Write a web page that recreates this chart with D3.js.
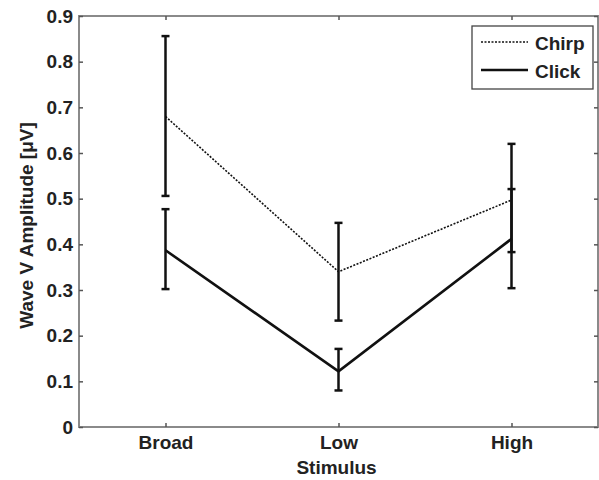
<!DOCTYPE html>
<html>
<head>
    <script src="https://cdnjs.cloudflare.com/ajax/libs/d3/7.8.5/d3.min.js" type="text/javascript"></script>
    <style>
        body { margin: 0; background: #fff; }
        text { font-family: "Liberation Sans", Arial, sans-serif; font-weight: bold; fill: #222; }
    </style>
</head>
<body>
    <div id="viz"></div>
    <script type="text/javascript">

    // stimulus categories
    var categories = ["Broad", "Low", "High"];
    // chirp: mean, lower, upper
    var chirpMean = [0.68, 0.34, 0.497];
    var chirpLow  = [0.506, 0.233, 0.383];
    var chirpHigh = [0.856, 0.447, 0.62];
    // click
    var clickMean = [0.387, 0.122, 0.412];
    var clickLow  = [0.302, 0.080, 0.304];
    var clickHigh = [0.477, 0.171, 0.521];
    var yTicks = [0, 0.1, 0.2, 0.3, 0.4, 0.5, 0.6, 0.7, 0.8, 0.9];

    var W = 599, H = 480;
    // note: "top" is window.top in the browser, so use other names
    var pL = 79, pR = 598, pT = 16, pB = 427;
    var fs = "19px";

    var svg = d3.select("#viz").append("svg")
        .attr("width", W).attr("height", H);

    var x = d3.scaleLinear().domain([0.5, 3.5]).range([pL, pR]);
    var y = d3.scaleLinear().domain([0, 0.9]).range([pB, pT]);

    // frame
    svg.append("rect")
        .attr("x", pL).attr("y", pT)
        .attr("width", pR - pL).attr("height", pB - pT)
        .style("fill", "none").style("stroke", "#8a8a8a").style("stroke-width", 2);

    // axes (ticks inside)
    var yAxis = d3.axisLeft(y).tickValues(yTicks).tickSize(-4).tickPadding(6)
        .tickFormat(function(d) { return d === 0 ? "0" : d3.format(".1f")(d); });
    var gy = svg.append("g").attr("transform", "translate(" + pL + ",0)").call(yAxis);
    var yAxisR = d3.axisRight(y).tickValues(yTicks).tickSize(-4).tickFormat("");
    var gyr = svg.append("g").attr("transform", "translate(" + pR + ",0)").call(yAxisR);

    var xAxis = d3.axisBottom(x).tickValues([1, 2, 3]).tickSize(-4).tickPadding(9)
        .tickFormat(function(d) { return categories[d - 1]; });
    var gx = svg.append("g").attr("transform", "translate(0," + pB + ")").call(xAxis);
    var xAxisT = d3.axisTop(x).tickValues([1, 2, 3]).tickSize(-4).tickFormat("");
    var gxt = svg.append("g").attr("transform", "translate(0," + pT + ")").call(xAxisT);

    [gy, gyr, gx, gxt].forEach(function(g) {
        g.select(".domain").remove();
        g.selectAll(".tick line").style("stroke", "#555").style("stroke-width", 1.5);
        g.selectAll("text").style("font-size", fs).style("font-family", "Liberation Sans, Arial, sans-serif")
            .style("font-weight", "bold").style("fill", "#222");
    });

    // axis labels
    svg.append("text")
        .attr("x", (pL + pR) / 2 - 2).attr("y", 474)
        .attr("text-anchor", "middle").style("font-size", fs)
        .text("Stimulus");
    svg.append("text")
        .attr("transform", "translate(33," + ((pT + pB) / 2 + 4) + ") rotate(-90)")
        .attr("text-anchor", "middle").style("font-size", fs)
        .text("Wave V Amplitude [\u03bcV]");

    function series(mean, lo, hi, dash, width) {
        var pts = mean.map(function(m, i) { return { i: i + 1, m: m, lo: lo[i], hi: hi[i] }; });
        var line = d3.line().x(function(d) { return x(d.i); }).y(function(d) { return y(d.m); });
        svg.append("path").datum(pts).attr("d", line)
            .style("fill", "none").style("stroke", "#111")
            .style("stroke-width", width).style("stroke-dasharray", dash);
        var eb = svg.append("g").selectAll("g").data(pts).enter().append("g");
        eb.append("line")
            .attr("x1", function(d) { return x(d.i); }).attr("x2", function(d) { return x(d.i); })
            .attr("y1", function(d) { return y(d.lo); }).attr("y2", function(d) { return y(d.hi); })
            .style("stroke", "#111").style("stroke-width", 2.5);
        ["lo", "hi"].forEach(function(k) {
            eb.append("line")
                .attr("x1", function(d) { return x(d.i) - 4; }).attr("x2", function(d) { return x(d.i) + 4; })
                .attr("y1", function(d) { return y(d[k]); }).attr("y2", function(d) { return y(d[k]); })
                .style("stroke", "#111").style("stroke-width", 2.5);
        });
    }

    series(chirpMean, chirpLow, chirpHigh, "2,1.5", 1.6);
    series(clickMean, clickLow, clickHigh, null, 2.6);

    // legend
    var lg = svg.append("g");
    lg.append("rect").attr("x", 472).attr("y", 26).attr("width", 121).attr("height", 63)
        .style("fill", "#fff").style("stroke", "#444").style("stroke-width", 1.3);
    lg.append("line").attr("x1", 481).attr("x2", 528).attr("y1", 42).attr("y2", 42)
        .style("stroke", "#111").style("stroke-width", 1.6).style("stroke-dasharray", "2,1.5");
    lg.append("line").attr("x1", 481).attr("x2", 528).attr("y1", 70).attr("y2", 70)
        .style("stroke", "#111").style("stroke-width", 2.6);
    lg.append("text").attr("x", 535).attr("y", 50).style("font-size", fs).text("Chirp");
    lg.append("text").attr("x", 535).attr("y", 78).style("font-size", fs).text("Click");

    </script>
</body>
</html>
